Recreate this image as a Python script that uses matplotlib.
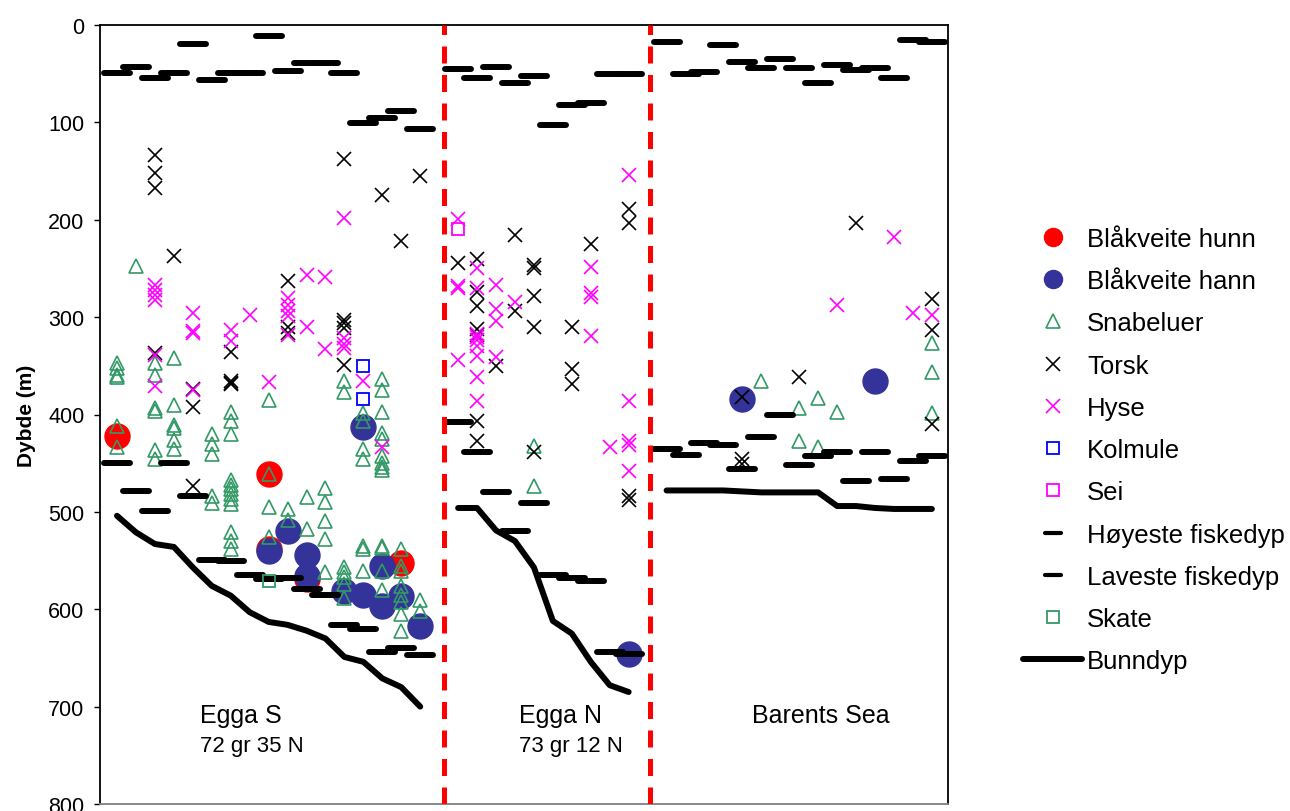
import matplotlib
matplotlib.use('Agg')
import numpy as np
import matplotlib.pyplot as plt
from matplotlib.lines import Line2D
from matplotlib.markers import MarkerStyle

plt.rcParams['font.family'] = ['Liberation Sans', 'DejaVu Sans']

# stasjoner (x) i de tre omraadene
stasjon_s = list(range(1, 18))
stasjon_n = list(range(19, 29))
stasjon_b = list(range(30, 45))

# hoeyeste og laveste fiskedyp per stasjon
hoy_s = [49, 43, 54, 49, 19, 56, 49, 49, 11, 47, 39, 39, 49, 101, 96, 88, 107]
hoy_n = [45, 54, 43, 60, 52, 103, 82, 80, 50, 50]
hoy_b = [17, 50, 48, 21, 38, 44, 35, 44, 60, 41, 46, 44, 54, 15, 17]

lav_s = [450, 479, 499, 450, 484, 549, 550, 565, 569, 568, 579, 585, 616, 620, 644, 640, 647]
lav_n = [408, 438, 480, 520, 491, 565, 568, 571, 644, 646]
lav_b = [435, 442, 429, 431, 456, 423, 401, 452, 443, 439, 468, 439, 466, 448, 443]

# bunndyp
bunn_s = [504, 521, 533, 536, 557, 576, 586, 603, 613, 616, 622, 630, 649, 654, 671, 680, 700]
bunn_n = [496, 496, 519, 530, 557, 612, 625, 654, 678, 685]
bunn_b = [478, 478, 478, 478, 479, 480, 480, 480, 480, 494, 494, 496, 497, 497, 497]

# fangst (stasjon, dyp)
hunn = [(1, 422), (9, 461), (9, 538), (11, 569), (16, 552)]
hann = [(9, 540), (10, 520), (11, 544), (11, 566), (13, 581), (14, 413), (14, 585),
        (15, 556), (15, 597), (16, 586), (17, 617), (28, 646), (34, 384), (41, 366)]
snabeluer = [
    (1, 347), (1, 352), (1, 359), (1, 362), (1, 412), (1, 433),
    (2, 248),
    (3, 347), (3, 359), (3, 393), (3, 396), (3, 436), (3, 446),
    (4, 342), (4, 390), (4, 411), (4, 414), (4, 426), (4, 435),
    (6, 420), (6, 430), (6, 441), (6, 484), (6, 491),
    (7, 397), (7, 407), (7, 420), (7, 467), (7, 472), (7, 477), (7, 482), (7, 487),
    (7, 492), (7, 521), (7, 530), (7, 538),
    (9, 385), (9, 461), (9, 495), (9, 526),
    (10, 497), (10, 508),
    (11, 485), (11, 518),
    (12, 475), (12, 490), (12, 509), (12, 528), (12, 562),
    (13, 366), (13, 377), (13, 557), (13, 562), (13, 567), (13, 574), (13, 588),
    (14, 398), (14, 407), (14, 435), (14, 446), (14, 535), (14, 538), (14, 561),
    (15, 364), (15, 375), (15, 397), (15, 419), (15, 425), (15, 443), (15, 450),
    (15, 454), (15, 457), (15, 535), (15, 537), (15, 561), (15, 580),
    (16, 538), (16, 556), (16, 561), (16, 576), (16, 585), (16, 593), (16, 605), (16, 622),
    (17, 590), (17, 602),
    (23, 432), (23, 473),
    (35, 366), (37, 393), (37, 427), (38, 383), (38, 433), (39, 397),
    (44, 327), (44, 356), (44, 398),
]
torsk = [
    (3, 133), (3, 152), (3, 167), (3, 337),
    (4, 237),
    (5, 374), (5, 392), (5, 473),
    (7, 336), (7, 366), (7, 368), (7, 369),
    (10, 263), (10, 310), (10, 316),
    (13, 138), (13, 303), (13, 306), (13, 311), (13, 349),
    (15, 175), (16, 222), (17, 155),
    (19, 244),
    (20, 240), (20, 274), (20, 289), (20, 312), (20, 318), (20, 407), (20, 427),
    (21, 350),
    (22, 216), (22, 294),
    (23, 246), (23, 250), (23, 278), (23, 310), (23, 438),
    (25, 310), (25, 353), (25, 369),
    (26, 225),
    (28, 189), (28, 203), (28, 484), (28, 488),
    (34, 382), (34, 446), (34, 451),
    (37, 362), (40, 203),
    (44, 281), (44, 313), (44, 410),
]
hyse = [
    (3, 267), (3, 272), (3, 277), (3, 282), (3, 339), (3, 371),
    (5, 296), (5, 314), (5, 316), (5, 375),
    (7, 313), (7, 325),
    (8, 298),
    (9, 367),
    (10, 280), (10, 288), (10, 294), (10, 299), (10, 318),
    (11, 257), (11, 310),
    (12, 259), (12, 333),
    (13, 198), (13, 321), (13, 328), (13, 332),
    (14, 366),
    (15, 433),
    (19, 199), (19, 268), (19, 270), (19, 344),
    (20, 250), (20, 270), (20, 317), (20, 320), (20, 323), (20, 330), (20, 340),
    (20, 361), (20, 386),
    (21, 267), (21, 292), (21, 304), (21, 341),
    (22, 284),
    (26, 249), (26, 275), (26, 279), (26, 319),
    (27, 433),
    (28, 154), (28, 386), (28, 427), (28, 431), (28, 458),
    (39, 288), (42, 218), (43, 296), (44, 298),
]
kolmule = [(14, 350), (14, 384)]
sei = [(19, 210)]
skate = [(9, 571)]

omraader = ['Egga S', 'Egga N', 'Barents Sea']
undertekst = ['72 gr 35 N', '73 gr 12 N', '']

GRONN = '#339966'
MORKBLA = '#333399'
MAGENTA = '#FF00FF'


def xy(par):
    a = np.array(par, dtype=float)
    return a[:, 0], a[:, 1]


def main():
    fig = plt.figure(figsize=(12.9, 8.12), dpi=100)
    ax = fig.add_axes([100 / 1290, 1 - 805 / 812, 848 / 1290, 779 / 812])

    strek = MarkerStyle('_', capstyle='round')

    x, y = xy(hunn)
    ax.plot(x, y, ls='none', marker='o', ms=18, mfc='red', mec='red', zorder=2)
    x, y = xy(hann)
    ax.plot(x, y, ls='none', marker='o', ms=18, mfc=MORKBLA, mec=MORKBLA, zorder=2)
    x, y = xy(snabeluer)
    ax.plot(x, y, ls='none', marker='^', ms=9.8, mfc='none', mec=GRONN, mew=1.2, zorder=3)
    x, y = xy(torsk)
    ax.plot(x, y, ls='none', marker='x', ms=9.5, mec='black', mew=1.2, zorder=3)
    x, y = xy(hyse)
    ax.plot(x, y, ls='none', marker='x', ms=9.5, mec=MAGENTA, mew=1.2, zorder=3)
    x, y = xy(kolmule)
    ax.plot(x, y, ls='none', marker='s', ms=8.5, mfc='none', mec='#0000FF', mew=1.3, zorder=3)
    x, y = xy(sei)
    ax.plot(x, y, ls='none', marker='s', ms=8.5, mfc='none', mec=MAGENTA, mew=1.3, zorder=3)

    for st, hoy, lav in [(stasjon_s, hoy_s, lav_s), (stasjon_n, hoy_n, lav_n),
                         (stasjon_b, hoy_b, lav_b)]:
        ax.plot(st, hoy, ls='none', marker=strek, ms=19, mec='black', mew=4.3, zorder=4)
        ax.plot(st, lav, ls='none', marker=strek, ms=19, mec='black', mew=4.3, zorder=4)

    x, y = xy(skate)
    ax.plot(x, y, ls='none', marker='s', ms=8.5, mfc='none', mec=GRONN, mew=1.3, zorder=4)

    for st, bunn in [(stasjon_s, bunn_s), (stasjon_n, bunn_n), (stasjon_b, bunn_b)]:
        ax.plot(st, bunn, color='black', lw=4.3, solid_joinstyle='round',
                solid_capstyle='round', zorder=5)

    # skillelinjer mellom omraadene
    for xv in [18.26, 29.15]:
        ax.axvline(xv, color='red', lw=3.6, ls=(0, (3.4, 2.3)), zorder=6)

    # omraadenavn
    for xt, navn, sub in zip([5.38, 22.2, 34.5], omraader, undertekst):
        ax.text(xt, 709, navn, fontsize=18, ha='left', va='center')
        if sub:
            ax.text(xt, 740, sub, fontsize=16, ha='left', va='center')

    ax.set_xlim(0.103, 44.85)
    ax.set_ylim(800, 0)
    ax.set_yticks(np.arange(0, 801, 100))
    ax.set_xticks([])
    ax.tick_params(axis='y', labelsize=15.5, length=4.3, width=1, direction='out', pad=7)
    ax.set_ylabel('Dybde (m)', fontsize=15, fontweight='bold')
    ax.yaxis.set_label_coords(-0.075, 0.5)
    for s in ['left', 'top', 'right']:
        ax.spines[s].set_color('black')
        ax.spines[s].set_linewidth(1.3)
    ax.spines['bottom'].set_color('#808080')
    ax.spines['bottom'].set_linewidth(1.3)

    handles = [
        Line2D([], [], ls='none', marker='o', ms=13, mfc='red', mec='red'),
        Line2D([], [], ls='none', marker='o', ms=13, mfc=MORKBLA, mec=MORKBLA),
        Line2D([], [], ls='none', marker='^', ms=9.5, mfc='none', mec=GRONN, mew=1.2),
        Line2D([], [], ls='none', marker='x', ms=9.5, mec='black', mew=1.2),
        Line2D([], [], ls='none', marker='x', ms=9.5, mec=MAGENTA, mew=1.2),
        Line2D([], [], ls='none', marker='s', ms=8.5, mfc='none', mec='#0000FF', mew=1.3),
        Line2D([], [], ls='none', marker='s', ms=8.5, mfc='none', mec=MAGENTA, mew=1.3),
        Line2D([], [], ls='none', marker=strek, ms=12, mec='black', mew=3),
        Line2D([], [], ls='none', marker=strek, ms=12, mec='black', mew=3),
        Line2D([], [], ls='none', marker='s', ms=8.5, mfc='none', mec=GRONN, mew=1.3),
        Line2D([], [], color='black', lw=4.3, solid_capstyle='round'),
    ]
    labels = ['Blåkveite hunn', 'Blåkveite hann', 'Snabeluer', 'Torsk', 'Hyse', 'Kolmule',
              'Sei', 'Høyeste fiskedyp', 'Laveste fiskedyp', 'Skate', 'Bunndyp']
    fig.legend(handles, labels, loc='upper left', bbox_to_anchor=(1023 / 1290, 1 - 228 / 812),
               borderpad=0, borderaxespad=0, handlelength=2.3, handletextpad=0.2,
               labelspacing=0.71, frameon=False, fontsize=18.5)

    fig.savefig('out.png', dpi=100)


if __name__ == '__main__':
    main()
